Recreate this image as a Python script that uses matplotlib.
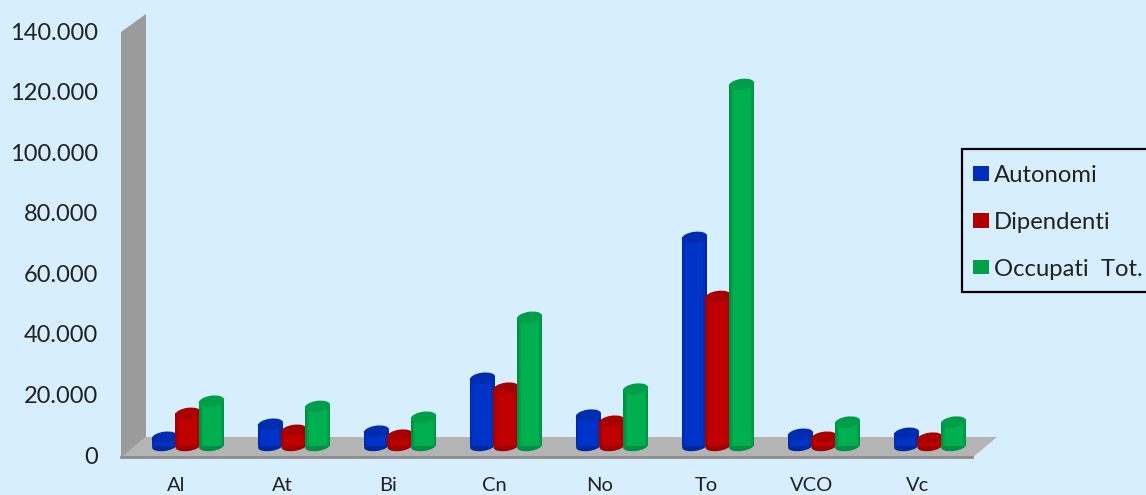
# imports
import matplotlib
matplotlib.use('Agg')
import matplotlib.pyplot as plt
from matplotlib.patches import Ellipse, Patch, Polygon, Rectangle
from matplotlib.transforms import Affine2D, IdentityTransform

# data
province = ['Al', 'At', 'Bi', 'Cn', 'No', 'To', 'VCO', 'Vc']
autonomi = [2900, 7200, 4900, 22400, 10200, 68900, 3900, 4200]
dipendenti = [10800, 5200, 3600, 19100, 8200, 49400, 2900, 2600]
occupati = [14800, 13100, 9500, 42500, 18800, 119400, 7900, 7900]
y_ticks = [0, 20000, 40000, 60000, 80000, 100000, 120000, 140000]
y_labels = ['0', '20.000', '40.000', '60.000', '80.000', '100.000', '120.000', '140.000']

# name, values, edge shade, mid shade, main shade, top shade
series = [
    ('Autonomi', autonomi, '#00299f', '#002eb6', '#0033c8', '#002cb0'),
    ('Dipendenti', dipendenti, '#9f0000', '#b00000', '#c00000', '#a80000'),
    ('Occupati  Tot.', occupati, '#008e42', '#00a049', '#00b050', '#009e48'),
]

W, H = 1146, 495
BG = '#d7eefe'
bar_w = 0.236
bar_step = 0.222
depth_x, depth_y = 12, 9  # bars stand in the middle of the floor

fig = plt.figure(figsize=(W / 100, H / 100), dpi=100, facecolor=BG)
plt.rcParams['font.family'] = ['Lato', 'DejaVu Sans']
ax = fig.add_axes([123 / W, (H - 455) / H, 848 / W, 424 / H])
ax.set_facecolor('none')
ax.set_zorder(5)
ax.set_xlim(-0.5, 7.5)
ax.set_ylim(0, 140000)
for s in ax.spines.values():
    s.set_visible(False)

# walls of the 3d box, in pixels of the picture
def px(points):
    return [(x, H - y) for x, y in points]

fig.add_artist(Polygon(px([(121, 458), (146, 437), (146, 14), (121, 32)]),
                       transform=IdentityTransform(), fc='#9b9b9b', ec='none'))
fig.add_artist(Polygon(px([(121, 458), (146, 437), (997, 437), (972, 458)]),
                       transform=IdentityTransform(), fc='#b4b4b4', ec='none'))
fig.add_artist(plt.Line2D([121, 972], [H - 457, H - 457], transform=IdentityTransform(),
                          color='#8c8c8c', lw=2))

# bars: a stack of narrower bars for the shading, ellipses for base and top
shift = ax.transData + Affine2D().translate(depth_x, depth_y)
z = 5
for i in range(len(province)):
    for j, (name, values, dark, mid, main, top) in enumerate(series):
        x = i + (j - 1) * bar_step
        v = values[i]
        px_base = shift.transform((x, 0))
        px_top = shift.transform((x, v))
        z += 1
        ax.add_patch(Ellipse(px_base, 25, 10, angle=8, transform=IdentityTransform(),
                             fc=dark, ec='none', zorder=z, clip_on=False))
        ax.bar(x, v, bar_w, color=dark, transform=shift, zorder=z, clip_on=False)
        ax.bar(x, v, bar_w * 0.88, color=mid, transform=shift, zorder=z, clip_on=False)
        ax.bar(x, v, bar_w * 0.72, color=main, transform=shift, zorder=z, clip_on=False)
        ax.add_patch(Ellipse(px_top, 25.5, 11, angle=8, transform=IdentityTransform(),
                             fc=top, ec='none', zorder=z, clip_on=False))

ax.set_xlim(-0.5, 7.5)
ax.set_ylim(0, 140000)
ax.set_xticks(range(len(province)))
ax.set_xticklabels(province, fontsize=14.5, color='#222222')
ax.set_yticks(y_ticks)
ax.set_yticklabels(y_labels, fontsize=17, color='#222222')
ax.tick_params(axis='x', length=0, pad=15.5)
ax.tick_params(axis='y', length=0, pad=18)

# legend box runs off the right side of the picture
fig.add_artist(Rectangle((962, H - 292), 200, 143, transform=IdentityTransform(),
                         fc=BG, ec='black', lw=1.6, zorder=6))
handles = [Patch(fc=s[3], label=s[0]) for s in series]
leg = fig.legend(handles=handles, loc='upper left',
                 bbox_to_anchor=(962 / W, (H - 154) / H), fontsize=17.2,
                 labelcolor='#222222', handlelength=0.67, handleheight=0.56,
                 handletextpad=0.22, labelspacing=1.08, borderpad=0.46,
                 borderaxespad=0, frameon=False)
leg.set_zorder(7)

fig.savefig('out.png', dpi=100, facecolor=BG)
